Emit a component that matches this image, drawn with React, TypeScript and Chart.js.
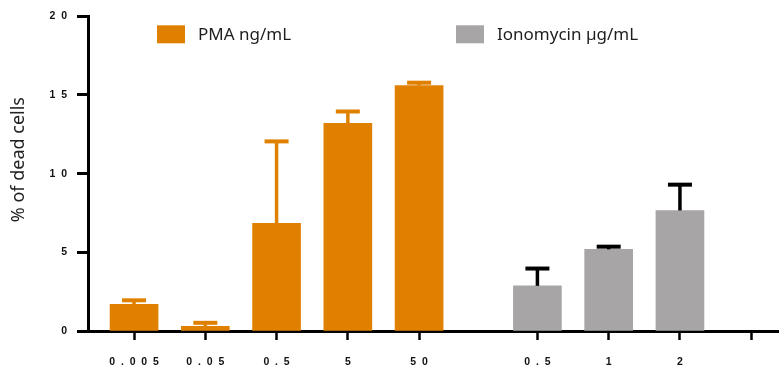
import { useEffect, useRef } from "react";
import { Chart, registerables } from "chart.js";

Chart.register(...registerables);

// ---- data ----
const pmaCategories = ["0.005", "0.05", "0.5", "5", "50"];
const pmaValues = [1.7, 0.3, 6.85, 13.2, 15.6];
const pmaErrors = [0.25, 0.22, 5.2, 0.75, 0.18];

const ionoCategories = ["0.5", "1", "2", ""];
const ionoValues: (number | null)[] = [2.87, 5.19, 7.66, null];
const ionoErrors: (number | null)[] = [1.1, 0.17, 1.64, null];

const yTickValues = [0, 5, 10, 15, 20];
const seriesLabels = ["PMA ng/mL", "Ionomycin µg/mL"];
const yTitle = "% of dead cells";

// ---- layout helpers (not data) ----
const GROUP_GAP = 0.66;
const pmaX = pmaCategories.map((_, i) => i);
const ionoX = ionoCategories.map((_, j) => pmaCategories.length + GROUP_GAP + j);
const allX = [...pmaX, ...ionoX];
const allLabels = [...pmaCategories, ...ionoCategories];

const ORANGE = "rgb(224,128,0)";
const GRAY = "rgb(167,165,165)";
const FS = "\u2007";
const spaced = (s: string) => s.split("").join(FS);

const errorBarPlugin = {
  id: "errorBars",
  afterDatasetsDraw(chart: any) {
    const ctx = chart.ctx;
    const yScale = chart.scales.y;
    chart.data.datasets.forEach((ds: any, di: number) => {
      const meta = chart.getDatasetMeta(di);
      meta.data.forEach((bar: any, i: number) => {
        const pt = ds.data[i];
        const e = ds.errors[i];
        if (pt == null || e == null) return;
        const base = yScale.getPixelForValue(pt.y);
        const top = yScale.getPixelForValue(pt.y + e);
        const cap = 24;
        ctx.save();
        ctx.strokeStyle = ds.errorColor;
        ctx.lineWidth = 3.5;
        ctx.beginPath();
        ctx.moveTo(bar.x, base);
        ctx.lineTo(bar.x, top);
        ctx.stroke();
        ctx.lineWidth = 4;
        ctx.beginPath();
        ctx.moveTo(bar.x - cap / 2, top);
        ctx.lineTo(bar.x + cap / 2, top);
        ctx.stroke();
        ctx.restore();
      });
    });
  },
};

const insideLegendPlugin = {
  id: "insideLegend",
  afterDraw(chart: any, _args: any, opts: any) {
    const { ctx, chartArea } = chart;
    chart.data.datasets.forEach((ds: any, i: number) => {
      const dx = opts.offsets[i];
      const x = chartArea.left + dx;
      const yTop = chartArea.top + opts.dy;
      ctx.save();
      ctx.fillStyle = ds.backgroundColor;
      ctx.fillRect(x, yTop, opts.boxWidth, opts.boxHeight);
      ctx.font = `${opts.fontSize}px "Noto Sans"`;
      ctx.fillStyle = "#1e1e1e";
      ctx.textBaseline = "middle";
      ctx.textAlign = "left";
      ctx.fillText(ds.label, x + opts.boxWidth + opts.gap, yTop + opts.boxHeight / 2 + 1);
      ctx.restore();
    });
  },
};

export default function App() {
  const canvasRef = useRef<HTMLCanvasElement | null>(null);

  useEffect(() => {
    document.body.style.margin = "0";
    const canvas = canvasRef.current;
    if (!canvas) return;

    const pmaData = pmaValues.map((v, i) => ({ x: pmaX[i], y: v }));
    const ionoData: { x: number; y: number }[] = [];
    const ionoErr: number[] = [];
    ionoValues.forEach((v, j) => {
      if (v != null) {
        ionoData.push({ x: ionoX[j], y: v });
        ionoErr.push(ionoErrors[j] as number);
      }
    });

    const chart = new Chart(canvas, {
      type: "bar",
      data: {
        datasets: [
          {
            label: seriesLabels[0],
            data: pmaData,
            backgroundColor: ORANGE,
            borderWidth: 0,
            barThickness: 48,
            grouped: false,
            errors: pmaErrors,
            errorColor: ORANGE,
          } as any,
          {
            label: seriesLabels[1],
            data: ionoData,
            backgroundColor: GRAY,
            borderWidth: 0,
            barThickness: 48,
            grouped: false,
            errors: ionoErr,
            errorColor: "#000",
          } as any,
        ],
      },
      options: {
        animation: false,
        responsive: false,
        layout: { padding: { left: 4, top: 15, right: 0, bottom: 0 } },
        plugins: {
          legend: { display: false },
          tooltip: { enabled: false },
          insideLegend: {
            offsets: [69, 368],
            dy: 9,
            boxWidth: 28,
            boxHeight: 18,
            gap: 13,
            fontSize: 17,
          },
        } as any,
        scales: {
          x: {
            type: "linear",
            min: -0.646,
            max: 9.05,
            offset: false,
            afterBuildTicks: (scale: any) => {
              scale.ticks = allX.map((v) => ({ value: v }));
            },
            afterFit: (scale: any) => {
              scale.height = 36;
            },
            grid: {
              display: true,
              offset: false,
              drawOnChartArea: false,
              drawTicks: true,
              tickLength: 9,
              tickWidth: 2.5,
              tickColor: "#000",
            },
            border: { display: true, color: "#000", width: 3 },
            ticks: {
              autoSkip: false,
              maxRotation: 0,
              padding: 16,
              color: "#111",
              font: { family: "Liberation Sans", size: 10.5, weight: "bold" },
              callback: (_v: any, index: number) => spaced(allLabels[index] ?? ""),
            },
          },
          y: {
            type: "linear",
            min: 0,
            max: 20,
            afterBuildTicks: (scale: any) => {
              scale.ticks = yTickValues.map((v) => ({ value: v }));
            },
            afterFit: (scale: any) => {
              scale.width = 84;
            },
            grid: {
              display: true,
              drawOnChartArea: false,
              drawTicks: true,
              tickLength: 11,
              tickWidth: 3,
              tickColor: "#000",
            },
            border: { display: true, color: "#000", width: 3 },
            ticks: {
              padding: 10,
              color: "#111",
              font: { family: "Liberation Sans", size: 10.5, weight: "bold" },
              callback: (v: any) => spaced(String(v)),
            },
            title: {
              display: true,
              text: "      " + yTitle,
              color: "#222",
              font: { family: "Noto Sans", size: 18 },
              padding: { top: 4, bottom: 4 },
            },
          },
        },
      },
      plugins: [errorBarPlugin, insideLegendPlugin],
    });

    return () => chart.destroy();
  }, []);

  return (
    <div style={{ width: 779, height: 367 }}>
      <canvas ref={canvasRef} width={779} height={367} style={{ display: "block" }} />
    </div>
  );
}
